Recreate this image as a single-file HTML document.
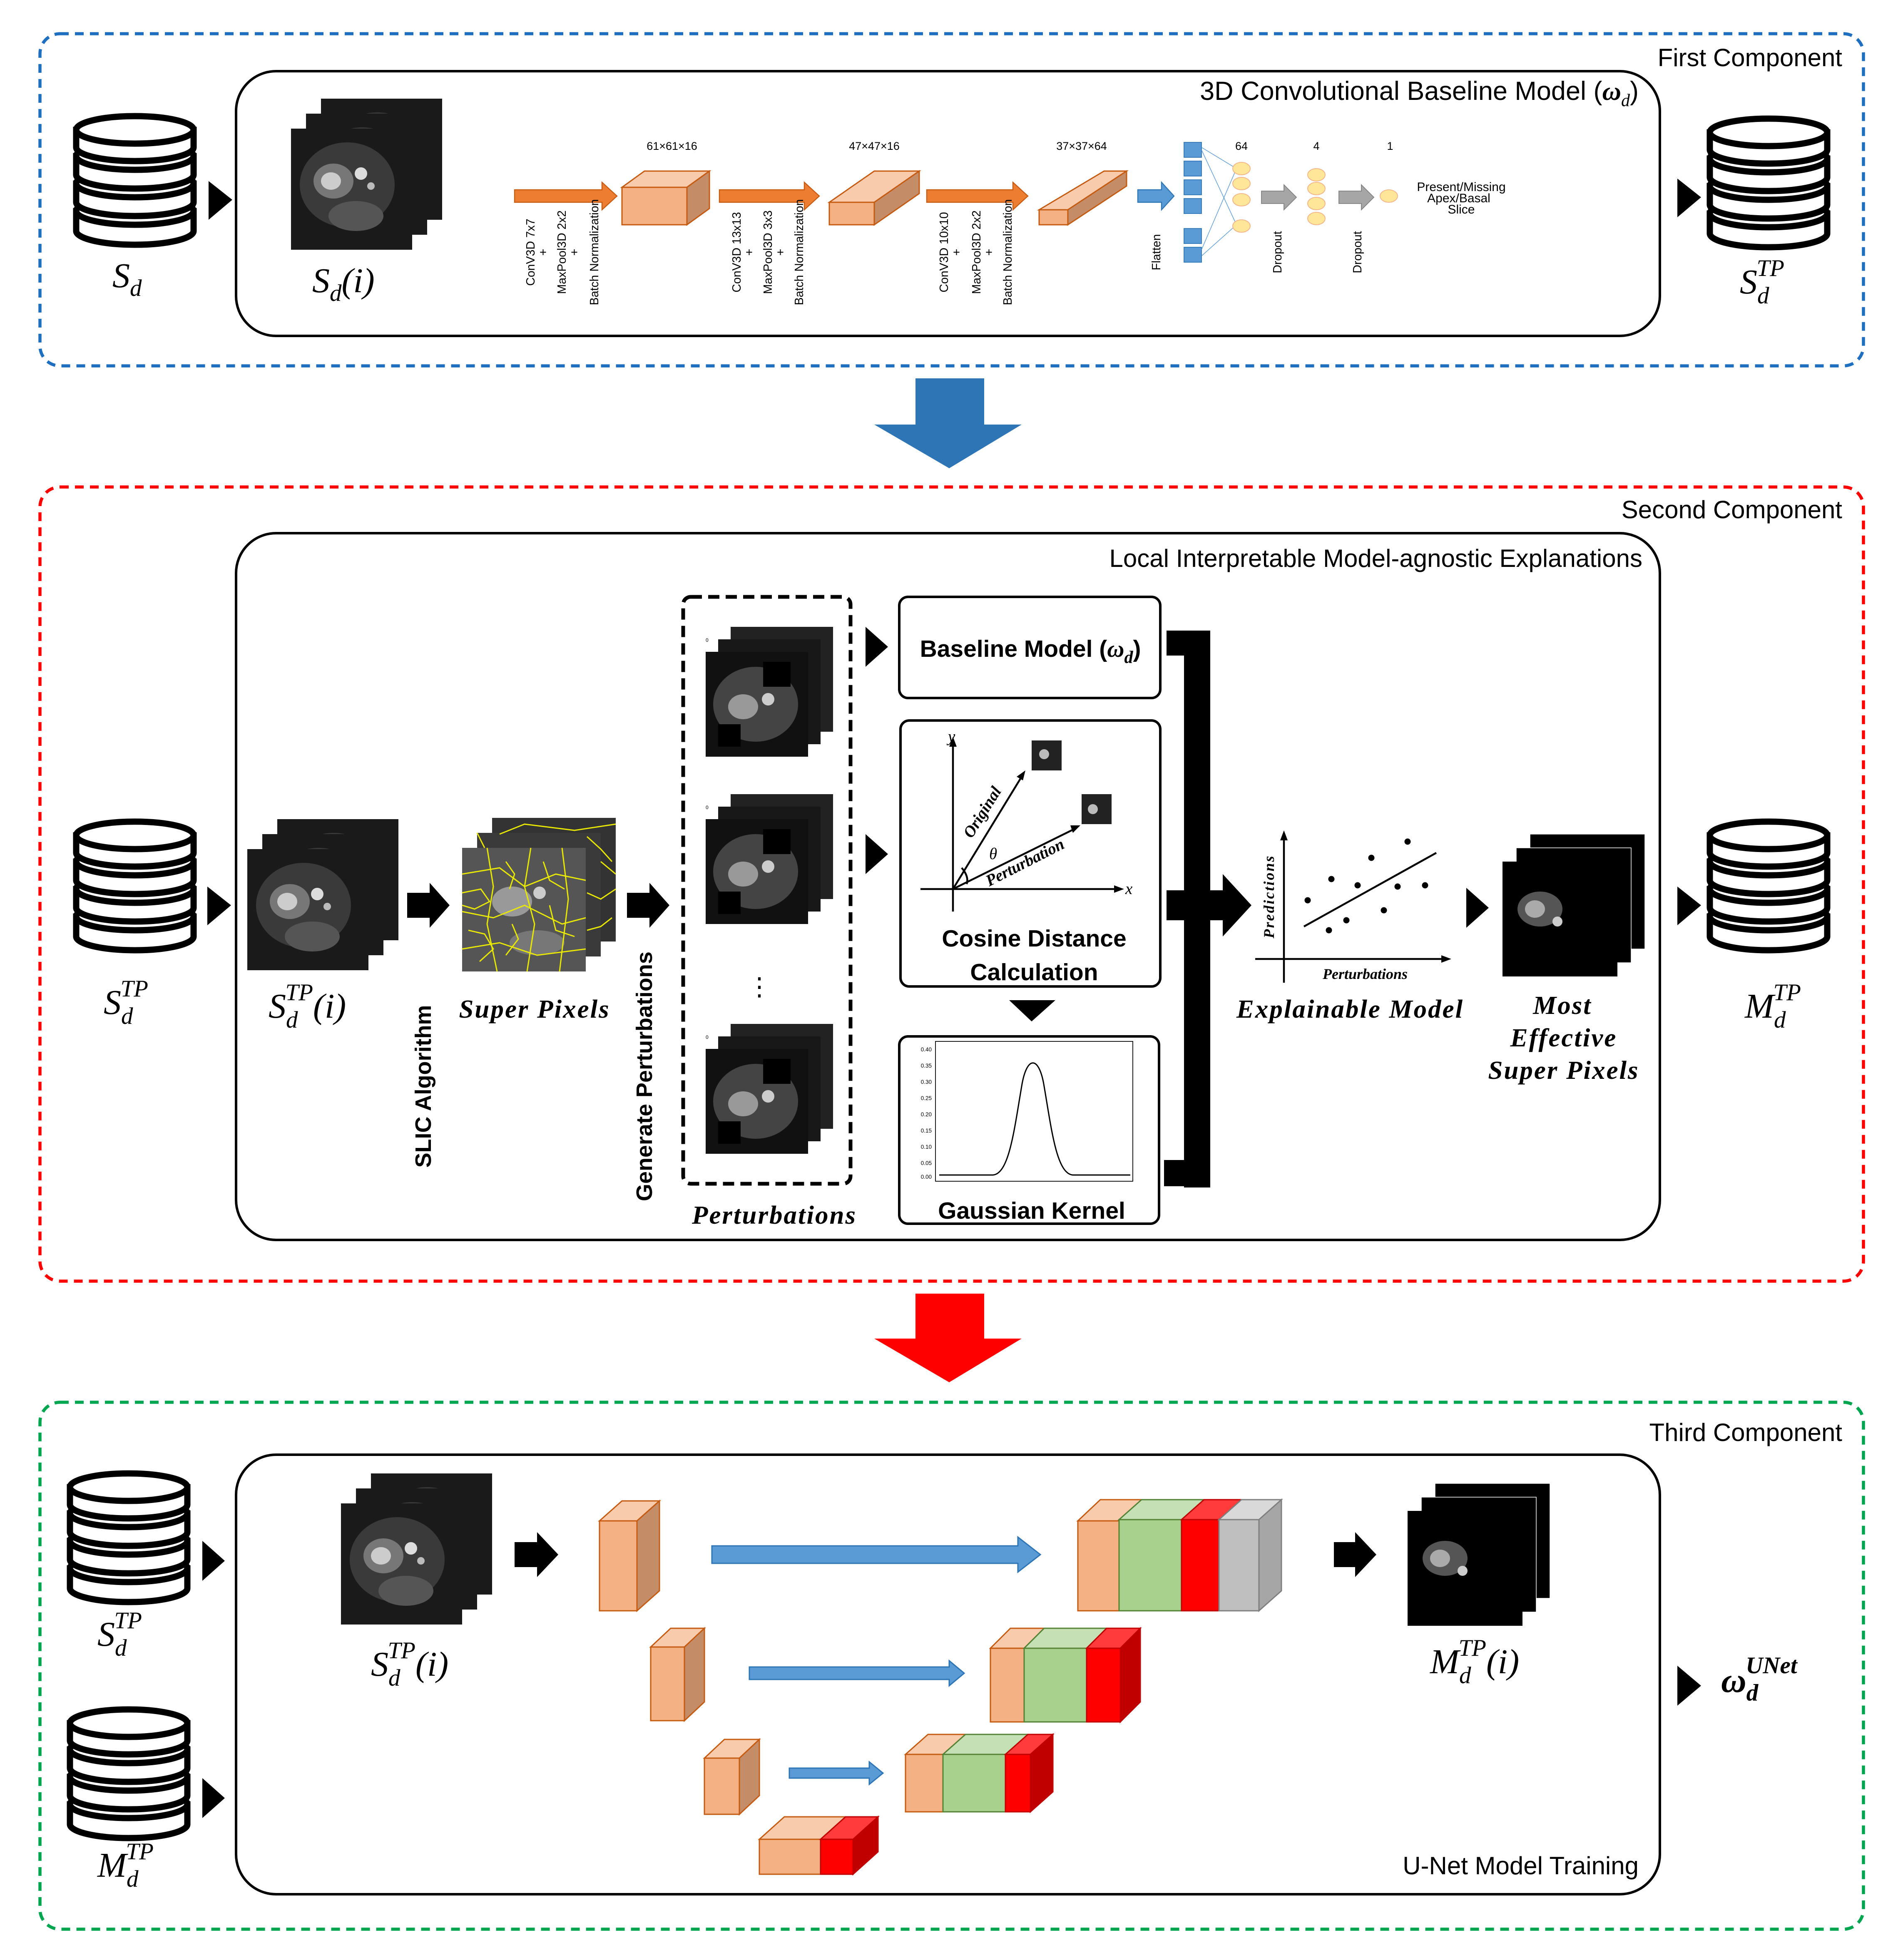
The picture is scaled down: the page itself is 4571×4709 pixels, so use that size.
<!DOCTYPE html>
<html><head><meta charset="utf-8"><style>html,body{margin:0;padding:0;background:#fff}svg{display:block}</style></head><body>
<svg xmlns="http://www.w3.org/2000/svg" width="4571" height="4709" viewBox="0 0 1523.67 1569.67">
<defs>
<g id="db">
<path d="M1,77 L1,93 A47,11 0 0 0 95,93 L95,77 Z" fill="#fff" stroke="#000" stroke-width="5"/>
<ellipse cx="48" cy="77" rx="47" ry="11" fill="#fff" stroke="#000" stroke-width="5"/>
<path d="M1,55 L1,70 A47,11 0 0 0 95,70 L95,55 Z" fill="#fff" stroke="#000" stroke-width="5"/>
<ellipse cx="48" cy="55" rx="47" ry="11" fill="#fff" stroke="#000" stroke-width="5"/>
<path d="M1,33 L1,48 A47,11 0 0 0 95,48 L95,33 Z" fill="#fff" stroke="#000" stroke-width="5"/>
<ellipse cx="48" cy="33" rx="47" ry="11" fill="#fff" stroke="#000" stroke-width="5"/>
<path d="M1,12 L1,26 A47,11 0 0 0 95,26 L95,12 Z" fill="#fff" stroke="#000" stroke-width="5"/>
<ellipse cx="48" cy="12" rx="47" ry="11" fill="#fff" stroke="#000" stroke-width="5"/>
</g>
<g id="mri1">
<rect width="97" height="97" fill="#1a1a1a"/>
<ellipse cx="45" cy="45" rx="38" ry="34" fill="#3a3a3a"/>
<ellipse cx="34" cy="42" rx="16" ry="14" fill="#777"/>
<ellipse cx="32" cy="42" rx="8" ry="7" fill="#ccc"/>
<circle cx="56" cy="36" r="5" fill="#ddd"/>
<circle cx="64" cy="46" r="3" fill="#bbb"/>
<ellipse cx="52" cy="70" rx="22" ry="12" fill="#555"/>
</g>
<g id="mri3">
<use href="#mri1" x="24" y="0"/><use href="#mri1" x="12" y="12"/><use href="#mri1" x="0" y="24"/>
</g>
<g id="mask1"><rect width="92" height="92" fill="#000" stroke="#fff" stroke-width="0.5"/></g>
<g id="mask3">
<use href="#mask1" x="22" y="0"/><use href="#mask1" x="11" y="11"/>
<rect x="0" y="22" width="92" height="92" fill="#000"/>
<ellipse cx="30" cy="60" rx="18" ry="14" fill="#555"/><ellipse cx="26" cy="60" rx="8" ry="7" fill="#aaa"/><circle cx="44" cy="70" r="4" fill="#ccc"/>
</g>
<g id="pert1">
<rect width="82" height="84" fill="#111"/>
<ellipse cx="40" cy="42" rx="34" ry="30" fill="#444"/>
<ellipse cx="30" cy="44" rx="12" ry="10" fill="#999"/>
<circle cx="50" cy="38" r="5" fill="#ccc"/>
<rect x="46" y="8" width="22" height="20" fill="#000"/><rect x="10" y="58" width="18" height="18" fill="#000"/>
</g>
<g id="pert3">
<rect x="20" y="0" width="82" height="84" fill="#222"/><rect x="10" y="10" width="82" height="84" fill="#181818"/>
<use href="#pert1" x="0" y="20"/>
<text x="0" y="12" font-size="4" font-family="Liberation Sans">0</text>
</g>
</defs>

<!-- ============ FIRST COMPONENT ============ -->
<rect x="32" y="27" width="1460" height="266" rx="16" fill="none" stroke="#1f6fc0" stroke-width="2.5" stroke-dasharray="7,5"/>
<text x="1475" y="53" text-anchor="end" font-family="Liberation Sans, sans-serif" font-size="20">First Component</text>
<rect x="189" y="57" width="1140" height="212" rx="32" fill="none" stroke="#000" stroke-width="2"/>
<text x="1312" y="80" text-anchor="end" font-family="Liberation Sans, sans-serif" font-size="21">3D Convolutional Baseline Model (<tspan font-family="Liberation Serif" font-style="italic" font-weight="bold">ω</tspan><tspan font-family="Liberation Serif" font-style="italic" font-size="14" dy="5">d</tspan><tspan dy="-5">)</tspan></text>
<use href="#db" x="60" y="92"/>
<polygon points="167,145 186,160 167,176" fill="#000"/>
<text x="90" y="230" font-family="Liberation Serif, serif" font-style="italic" font-size="28">S<tspan font-size="19" dy="7">d</tspan></text>
<use href="#mri3" x="233" y="79"/>
<text x="250" y="234" font-family="Liberation Serif, serif" font-style="italic" font-size="28">S<tspan font-size="19" dy="7">d</tspan><tspan dy="-7">(i)</tspan></text>

<g font-family="Liberation Sans, sans-serif" font-size="9" text-anchor="middle">
<text x="538" y="120">61×61×16</text><text x="700" y="120">47×47×16</text><text x="866" y="120">37×37×64</text>
<text x="994" y="120">64</text><text x="1054" y="120">4</text><text x="1113" y="120">1</text>
</g>
<g fill="#ed7d31" stroke="#c55a11" stroke-width="0.8">
<polygon points="412,152 482,152 482,146 494,157 482,168 482,162 412,162"/>
<polygon points="576,152 644,152 644,146 656,157 644,168 644,162 576,162"/>
<polygon points="742,152 811,152 811,146 823,157 811,168 811,162 742,162"/>
</g>
<g stroke="#c55a11" stroke-width="1">
<polygon points="498,150 516,137 568,137 550,150" fill="#f8cbad"/>
<polygon points="550,150 568,137 568,167 550,180" fill="#c58c68"/>
<rect x="498" y="150" width="52" height="30" fill="#f4b183"/>
<polygon points="664,162 700,137 736,137 700,162" fill="#f8cbad"/>
<polygon points="700,162 736,137 736,155 700,180" fill="#c58c68"/>
<rect x="664" y="162" width="36" height="18" fill="#f4b183"/>
<polygon points="832,168 884,137 902,137 855,168" fill="#f8cbad"/>
<polygon points="855,168 902,137 902,149 855,180" fill="#c58c68"/>
<rect x="832" y="168" width="23" height="12" fill="#f4b183"/>
</g>
<polygon points="911,152 930,152 930,146 940,157 930,168 930,162 911,162" fill="#5b9bd5" stroke="#2e75b6" stroke-width="0.8"/>
<g fill="#5b9bd5" stroke="#2e75b6" stroke-width="0.6">
<rect x="948" y="114" width="14" height="12"/><rect x="948" y="129" width="14" height="12"/><rect x="948" y="144" width="14" height="12"/><rect x="948" y="159" width="14" height="12"/>
<rect x="948" y="183" width="14" height="12"/><rect x="948" y="198" width="14" height="12"/>
</g>
<g stroke="#5b9bd5" stroke-width="0.5"><line x1="962" y1="118" x2="990" y2="135"/><line x1="962" y1="205" x2="990" y2="180"/><line x1="962" y1="120" x2="990" y2="180"/><line x1="962" y1="200" x2="990" y2="135"/></g>
<g fill="#ffe699" stroke="#f4b183" stroke-width="0.6">
<ellipse cx="994" cy="135" rx="7" ry="5"/><ellipse cx="994" cy="147" rx="7" ry="5"/><ellipse cx="994" cy="160" rx="7" ry="5"/><ellipse cx="994" cy="181" rx="7" ry="5"/>
<ellipse cx="1054" cy="140" rx="7" ry="5"/><ellipse cx="1054" cy="151" rx="7" ry="5"/><ellipse cx="1054" cy="163" rx="7" ry="5"/><ellipse cx="1054" cy="175" rx="7" ry="5"/>
<ellipse cx="1112" cy="157" rx="7" ry="5"/>
</g>
<polygon points="1010,153 1028,153 1028,148 1038,158 1028,168 1028,163 1010,163" fill="#a6a6a6" stroke="#7f7f7f" stroke-width="0.6"/>
<polygon points="1072,153 1090,153 1090,148 1100,158 1090,168 1090,163 1072,163" fill="#a6a6a6" stroke="#7f7f7f" stroke-width="0.6"/>
<g font-family="Liberation Sans, sans-serif" font-size="10" text-anchor="middle"><text x="1170" y="153">Present/Missing</text><text x="1168" y="162">Apex/Basal</text><text x="1170" y="171">Slice</text></g>
<g font-family="Liberation Sans, sans-serif" font-size="9.5">
<g transform="translate(428,202) rotate(-90)" text-anchor="middle"><text>ConV3D 7x7</text></g>
<g transform="translate(438,202) rotate(-90)" text-anchor="middle"><text>+</text></g>
<g transform="translate(453,202) rotate(-90)" text-anchor="middle"><text>MaxPool3D 2x2</text></g>
<g transform="translate(463,202) rotate(-90)" text-anchor="middle"><text>+</text></g>
<g transform="translate(479,202) rotate(-90)" text-anchor="middle"><text>Batch Normalization</text></g>
<g transform="translate(593,202) rotate(-90)" text-anchor="middle"><text>ConV3D 13x13</text></g>
<g transform="translate(603,202) rotate(-90)" text-anchor="middle"><text>+</text></g>
<g transform="translate(618,202) rotate(-90)" text-anchor="middle"><text>MaxPool3D 3x3</text></g>
<g transform="translate(628,202) rotate(-90)" text-anchor="middle"><text>+</text></g>
<g transform="translate(643,202) rotate(-90)" text-anchor="middle"><text>Batch Normalization</text></g>
<g transform="translate(759,202) rotate(-90)" text-anchor="middle"><text>ConV3D 10x10</text></g>
<g transform="translate(769,202) rotate(-90)" text-anchor="middle"><text>+</text></g>
<g transform="translate(785,202) rotate(-90)" text-anchor="middle"><text>MaxPool3D 2x2</text></g>
<g transform="translate(795,202) rotate(-90)" text-anchor="middle"><text>+</text></g>
<g transform="translate(810,202) rotate(-90)" text-anchor="middle"><text>Batch Normalization</text></g>
<g transform="translate(929,202) rotate(-90)" text-anchor="middle"><text>Flatten</text></g>
<g transform="translate(1026,202) rotate(-90)" text-anchor="middle"><text>Dropout</text></g>
<g transform="translate(1090,202) rotate(-90)" text-anchor="middle"><text>Dropout</text></g>
</g>
<polygon points="1343,143 1362,158 1343,174" fill="#000"/>
<use href="#db" x="1368" y="94"/>
<text x="1393" y="235" font-family="Liberation Serif, serif" font-style="italic" font-size="28">S<tspan font-size="19" dy="8">d</tspan><tspan font-size="19" dx="-10" dy="-22">TP</tspan></text>

<polygon points="733,303 788,303 788,340 818,340 760,375 700,340 733,340" fill="#2e75b6"/>

<!-- ============ SECOND COMPONENT ============ -->
<rect x="32" y="390" width="1460" height="636" rx="16" fill="none" stroke="#ff0000" stroke-width="2.5" stroke-dasharray="7,5"/>
<text x="1475" y="415" text-anchor="end" font-family="Liberation Sans, sans-serif" font-size="20">Second Component</text>
<rect x="189" y="427" width="1140" height="566" rx="32" fill="none" stroke="#000" stroke-width="2"/>
<text x="1315" y="454" text-anchor="end" font-family="Liberation Sans, sans-serif" font-size="20">Local Interpretable Model-agnostic Explanations</text>
<use href="#db" x="60" y="657"/>
<polygon points="166,710 185,725 166,741" fill="#000"/>
<text x="83" y="812" font-family="Liberation Serif, serif" font-style="italic" font-size="28">S<tspan font-size="19" dy="8">d</tspan><tspan font-size="19" dx="-10" dy="-22">TP</tspan></text>
<use href="#mri3" x="198" y="656"/>
<text x="215" y="815" font-family="Liberation Serif, serif" font-style="italic" font-size="28">S<tspan font-size="19" dy="8">d</tspan><tspan font-size="19" dx="-10" dy="-22">TP</tspan><tspan dy="14">(i)</tspan></text>
<polygon points="326,715 344,715 344,707 360,725 344,743 344,735 326,735" fill="#000"/>
<g>
<rect x="394" y="655" width="99" height="99" fill="#333"/><rect x="382" y="667" width="99" height="99" fill="#3a3a3a"/>
<rect x="370" y="679" width="99" height="99" fill="#555"/>
<ellipse cx="410" cy="722" rx="16" ry="12" fill="#999"/><circle cx="432" cy="715" r="5" fill="#ccc"/><ellipse cx="430" cy="755" rx="22" ry="10" fill="#777"/>
<g fill="none" stroke="#e8e800" stroke-width="1">
<path d="M370,700 L400,695 L420,710 L445,700 L469,705"/><path d="M370,730 L395,735 L420,725 L450,740 L469,735"/>
<path d="M390,679 L395,710 L390,740 L398,778"/><path d="M425,679 L420,710 L428,740 L422,778"/><path d="M450,679 L455,720 L448,778"/>
<path d="M400,668 L420,660 L460,665 L493,660"/><path d="M481,690 L493,700"/><path d="M370,760 L400,755 L430,765 L469,760"/>
<path d="M370,715 L385,712 L392,722 L380,728 L370,725"/><path d="M405,690 L412,700 L408,712"/><path d="M435,690 L440,705 L452,712"/>
<path d="M375,745 L388,748 L395,760 L384,770"/><path d="M440,725 L445,745 L460,750"/><path d="M410,740 L415,752 L405,765"/>
<path d="M382,667 L388,679"/><path d="M470,670 L481,680 L490,690"/><path d="M470,715 L481,720 L493,712"/><path d="M470,745 L481,742 L490,735"/>
</g>
</g>
<text x="428" y="815" text-anchor="middle" font-family="Liberation Serif, serif" font-style="italic" font-weight="bold" font-size="21" letter-spacing="1">Super Pixels</text>
<g transform="translate(345,870) rotate(-90)"><text text-anchor="middle" font-family="Liberation Sans, sans-serif" font-weight="bold" font-size="18">SLIC Algorithm</text></g>
<polygon points="502,715 520,715 520,707 536,725 520,743 520,735 502,735" fill="#000"/>
<g transform="translate(522,862) rotate(-90)"><text text-anchor="middle" font-family="Liberation Sans, sans-serif" font-weight="bold" font-size="18">Generate Perturbations</text></g>
<rect x="547" y="478" width="134" height="470" rx="6" fill="none" stroke="#000" stroke-width="3" stroke-dasharray="9,5"/>
<use href="#pert3" x="565" y="502"/>
<use href="#pert3" x="565" y="636"/>
<use href="#pert3" x="565" y="820"/>
<text x="608" y="797" text-anchor="middle" font-family="Liberation Sans, sans-serif" font-size="20">⋮</text>
<text x="620" y="980" text-anchor="middle" font-family="Liberation Serif, serif" font-style="italic" font-weight="bold" font-size="21" letter-spacing="1">Perturbations</text>
<polygon points="693,502 711,518 693,534" fill="#000"/>
<polygon points="693,668 711,684 693,700" fill="#000"/>
<rect x="720" y="478" width="209" height="81" rx="7" fill="none" stroke="#000" stroke-width="2"/>
<text x="825" y="526" text-anchor="middle" font-family="Liberation Sans, sans-serif" font-weight="bold" font-size="19">Baseline Model (<tspan font-family="Liberation Serif" font-style="italic">ω</tspan><tspan font-family="Liberation Serif" font-style="italic" font-size="14" dy="5">d</tspan><tspan dy="-5">)</tspan></text>
<rect x="721" y="577" width="208" height="213" rx="7" fill="none" stroke="#000" stroke-width="2"/>
<g stroke="#000" stroke-width="1.5" fill="none">
<line x1="763" y1="730" x2="763" y2="596"/><line x1="737" y1="712" x2="895" y2="712"/>
<line x1="763" y1="712" x2="818" y2="622"/><line x1="763" y1="712" x2="860" y2="664"/>
<path d="M770,695 Q776,702 774,708"/>
</g>
<g fill="#000"><polygon points="763,590 760,598 766,598"/><polygon points="900,712 892,709 892,715"/><polygon points="821,617 814,622 819,625"/><polygon points="865,661 857,661 859,667"/></g>
<text x="759" y="594" font-family="Liberation Serif, serif" font-style="italic" font-size="13">y</text>
<text x="901" y="716" font-family="Liberation Serif, serif" font-style="italic" font-size="13">x</text>
<text x="792" y="688" font-family="Liberation Serif, serif" font-style="italic" font-size="13">θ</text>
<g transform="translate(778,672) rotate(-58)"><text font-family="Liberation Serif, serif" font-style="italic" font-weight="bold" font-size="13">Original</text></g>
<g transform="translate(792,710) rotate(-27)"><text font-family="Liberation Serif, serif" font-style="italic" font-weight="bold" font-size="13">Perturbation</text></g>
<rect x="826" y="593" width="24" height="24" fill="#222"/><circle cx="836" cy="604" r="4" fill="#bbb"/>
<rect x="866" y="636" width="24" height="24" fill="#222"/><circle cx="875" cy="648" r="4" fill="#bbb"/>
<text x="828" y="758" text-anchor="middle" font-family="Liberation Sans, sans-serif" font-weight="bold" font-size="19">Cosine Distance</text>
<text x="828" y="785" text-anchor="middle" font-family="Liberation Sans, sans-serif" font-weight="bold" font-size="19">Calculation</text>
<polygon points="808,801 845,801 826,818" fill="#000"/>
<rect x="720" y="830" width="208" height="150" rx="7" fill="none" stroke="#000" stroke-width="2"/>
<rect x="749" y="834" width="158" height="112" fill="none" stroke="#000" stroke-width="0.6"/>
<path d="M752,941 L795,941 C808,940 812,905 818,870 C822,845 832,845 836,870 C842,905 846,940 859,941 L905,941" fill="none" stroke="#000" stroke-width="1"/>
<g font-family="Liberation Sans, sans-serif" font-size="4.5" text-anchor="end"><text x="746" y="842">0.40</text><text x="746" y="855">0.35</text><text x="746" y="868">0.30</text><text x="746" y="881">0.25</text><text x="746" y="894">0.20</text><text x="746" y="907">0.15</text><text x="746" y="920">0.10</text><text x="746" y="933">0.05</text><text x="746" y="944">0.00</text></g>
<text x="826" y="976" text-anchor="middle" font-family="Liberation Sans, sans-serif" font-weight="bold" font-size="19">Gaussian Kernel</text>
<g fill="#000">
<rect x="948" y="505" width="21" height="446"/>
<rect x="934" y="505" width="20" height="20"/>
<rect x="934" y="713" width="20" height="24"/>
<rect x="932" y="929" width="20" height="21"/>
<rect x="966" y="713" width="16" height="24"/>
<polygon points="979,700 1002,725 979,750"/>
</g>
<g stroke="#000" stroke-width="1.5" fill="none">
<line x1="1028" y1="787" x2="1028" y2="670"/><line x1="1005" y1="768" x2="1157" y2="768"/>
<line x1="1044" y1="742" x2="1150" y2="683"/>
</g>
<polygon points="1028,665 1025,673 1031,673" fill="#000"/><polygon points="1162,768 1154,765 1154,771" fill="#000"/>
<g fill="#000"><circle cx="1047" cy="721" r="2.5"/><circle cx="1066" cy="704" r="2.5"/><circle cx="1087" cy="709" r="2.5"/><circle cx="1098" cy="687" r="2.5"/><circle cx="1127" cy="674" r="2.5"/><circle cx="1119" cy="710" r="2.5"/><circle cx="1141" cy="709" r="2.5"/><circle cx="1064" cy="745" r="2.5"/><circle cx="1078" cy="737" r="2.5"/><circle cx="1108" cy="729" r="2.5"/></g>
<g transform="translate(1020,718) rotate(-90)"><text text-anchor="middle" font-family="Liberation Serif, serif" font-style="italic" font-weight="bold" font-size="12" letter-spacing="1">Predictions</text></g>
<text x="1093" y="784" text-anchor="middle" font-family="Liberation Serif, serif" font-style="italic" font-weight="bold" font-size="12">Perturbations</text>
<text x="1081" y="815" text-anchor="middle" font-family="Liberation Serif, serif" font-style="italic" font-weight="bold" font-size="21" letter-spacing="1">Explainable Model</text>
<polygon points="1174,711 1192,727 1174,743" fill="#000"/>
<use href="#mask3" x="1203" y="668"/>
<g font-family="Liberation Serif, serif" font-style="italic" font-weight="bold" font-size="21" text-anchor="middle" letter-spacing="1">
<text x="1251" y="812">Most</text><text x="1252" y="838">Effective</text><text x="1252" y="864">Super Pixels</text></g>
<polygon points="1343,710 1362,725 1343,741" fill="#000"/>
<use href="#db" x="1368" y="657"/>
<text x="1397" y="815" font-family="Liberation Serif, serif" font-style="italic" font-size="28">M<tspan font-size="19" dy="8">d</tspan><tspan font-size="19" dx="-10" dy="-22">TP</tspan></text>

<polygon points="733,1036 788,1036 788,1072 818,1072 760,1107 700,1072 733,1072" fill="#ff0000"/>

<!-- ============ THIRD COMPONENT ============ -->
<rect x="32" y="1123" width="1460" height="422" rx="16" fill="none" stroke="#00a64f" stroke-width="2.5" stroke-dasharray="7,5"/>
<text x="1475" y="1154" text-anchor="end" font-family="Liberation Sans, sans-serif" font-size="20">Third Component</text>
<rect x="189" y="1165" width="1140" height="352" rx="32" fill="none" stroke="#000" stroke-width="2"/>
<use href="#db" x="55" y="1179"/>
<use href="#db" x="55" y="1368"/>
<polygon points="162,1234 180,1250 162,1266" fill="#000"/>
<polygon points="162,1424 180,1440 162,1456" fill="#000"/>
<text x="78" y="1318" font-family="Liberation Serif, serif" font-style="italic" font-size="28">S<tspan font-size="19" dy="8">d</tspan><tspan font-size="19" dx="-10" dy="-22">TP</tspan></text>
<text x="78" y="1503" font-family="Liberation Serif, serif" font-style="italic" font-size="28">M<tspan font-size="19" dy="8">d</tspan><tspan font-size="19" dx="-10" dy="-22">TP</tspan></text>
<use href="#mri3" x="273" y="1180"/>
<text x="297" y="1342" font-family="Liberation Serif, serif" font-style="italic" font-size="28">S<tspan font-size="19" dy="8">d</tspan><tspan font-size="19" dx="-10" dy="-22">TP</tspan><tspan dy="14">(i)</tspan></text>
<polygon points="412,1235 430,1235 430,1227 447,1245 430,1263 430,1255 412,1255" fill="#000"/>
<g stroke-width="1">
<g stroke="#c55a11">
<polygon points="480,1218 498,1202 528,1202 510,1218" fill="#f8cbad"/><polygon points="510,1218 528,1202 528,1274 510,1290" fill="#c58c68"/><rect x="480" y="1218" width="30" height="72" fill="#f4b183"/>
<polygon points="521,1319 537,1304 564,1304 548,1319" fill="#f8cbad"/><polygon points="548,1319 564,1304 564,1363 548,1378" fill="#c58c68"/><rect x="521" y="1319" width="27" height="59" fill="#f4b183"/>
<polygon points="564,1408 580,1393 608,1393 592,1408" fill="#f8cbad"/><polygon points="592,1408 608,1393 608,1438 592,1453" fill="#c58c68"/><rect x="564" y="1408" width="28" height="45" fill="#f4b183"/>
<polygon points="608,1473 628,1455 677,1455 657,1473" fill="#f8cbad"/><rect x="608" y="1473" width="49" height="28" fill="#f4b183"/>
<polygon points="863,1218 881,1201 914,1201 896,1218" fill="#f8cbad"/><rect x="863" y="1218" width="33" height="72" fill="#f4b183"/>
<polygon points="793,1320 809,1304 836,1304 820,1320" fill="#f8cbad"/><rect x="793" y="1320" width="27" height="59" fill="#f4b183"/>
<polygon points="725,1405 743,1389 773,1389 755,1405" fill="#f8cbad"/><rect x="725" y="1405" width="30" height="46" fill="#f4b183"/>
</g>
<g stroke="#548235">
<polygon points="896,1217 914,1201 964,1201 946,1217" fill="#c5e0b4"/><rect x="896" y="1217" width="50" height="73" fill="#a9d18e"/>
<polygon points="820,1320 836,1304 886,1304 870,1320" fill="#c5e0b4"/><rect x="820" y="1320" width="50" height="59" fill="#a9d18e"/>
<polygon points="755,1405 773,1389 823,1389 805,1405" fill="#c5e0b4"/><rect x="755" y="1405" width="50" height="46" fill="#a9d18e"/>
</g>
<g stroke="#c00000">
<polygon points="946,1217 964,1201 994,1201 976,1217" fill="#ff3b3b"/><rect x="946" y="1217" width="30" height="73" fill="#ff0000"/>
<polygon points="870,1320 886,1304 913,1304 897,1320" fill="#ff3b3b"/><polygon points="897,1320 913,1304 913,1363 897,1379" fill="#c00000"/><rect x="870" y="1320" width="27" height="59" fill="#ff0000"/>
<polygon points="805,1405 823,1389 843,1389 825,1405" fill="#ff3b3b"/><polygon points="825,1405 843,1389 843,1435 825,1451" fill="#c00000"/><rect x="805" y="1405" width="20" height="46" fill="#ff0000"/>
<polygon points="657,1473 677,1455 703,1455 683,1473" fill="#ff3b3b"/><polygon points="683,1473 703,1455 703,1483 683,1501" fill="#c00000"/><rect x="657" y="1473" width="26" height="28" fill="#ff0000"/>
</g>
<g stroke="#7f7f7f">
<polygon points="976,1217 994,1201 1026,1201 1008,1217" fill="#d9d9d9"/><polygon points="1008,1217 1026,1201 1026,1274 1008,1290" fill="#a6a6a6"/><rect x="976" y="1217" width="32" height="73" fill="#bfbfbf"/>
</g>
</g>
<g fill="#5b9bd5" stroke="#2e75b6" stroke-width="1">
<polygon points="570,1238 815,1238 815,1231 833,1245 815,1259 815,1252 570,1252"/>
<polygon points="600,1335 760,1335 760,1330 772,1340 760,1350 760,1345 600,1345"/>
<polygon points="632,1416 696,1416 696,1411 707,1420 696,1429 696,1424 632,1424"/>
</g>
<polygon points="1068,1235 1085,1235 1085,1227 1102,1245 1085,1263 1085,1255 1068,1255" fill="#000"/>
<use href="#mask3" x="1127" y="1188"/>
<text x="1145" y="1340" font-family="Liberation Serif, serif" font-style="italic" font-size="28">M<tspan font-size="19" dy="8">d</tspan><tspan font-size="19" dx="-10" dy="-22">TP</tspan><tspan dy="14">(i)</tspan></text>
<polygon points="1343,1334 1362,1350 1343,1366" fill="#000"/>
<text x="1378" y="1355" font-family="Liberation Serif, serif" font-style="italic" font-weight="bold" font-size="28">ω<tspan font-size="19" dy="7">d</tspan><tspan font-size="19" dx="-10" dy="-22">UNet</tspan></text>
<text x="1312" y="1501" text-anchor="end" font-family="Liberation Sans, sans-serif" font-size="20">U-Net Model Training</text>
</svg>
</body></html>
